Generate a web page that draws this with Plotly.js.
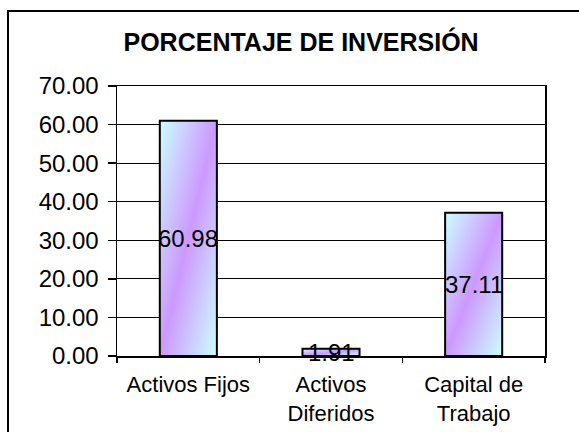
<!DOCTYPE html>
<html>
<head>
<meta charset="utf-8">
<script src="https://cdn.plot.ly/plotly-3.0.1.min.js"></script>
<style>
  html, body { margin: 0; padding: 0; background: #fff; }
  #chart { position: absolute; left: 0; top: 0; width: 579px; height: 432px; }
  #frame { position: absolute; left: 7px; top: 10px; width: 600px; height: 460px;
           border-left: 2px solid #000; border-top: 2px solid #000; pointer-events: none; z-index: 5; }
</style>
</head>
<body>
<div id="chart"></div>
<div id="frame"></div>
<script>
const categories = ["Activos Fijos", "Activos<br>Diferidos", "Capital de<br>Trabajo"];
const values = [60.98, 1.91, 37.11];
const yTickVals = [0, 10, 20, 30, 40, 50, 60, 70];
const yTickText = ["0.00", "10.00", "20.00", "30.00", "40.00", "50.00", "60.00", "70.00"];
const titleText = "PORCENTAJE DE INVERSIÓN";

const FONT = "Liberation Sans, Arial, sans-serif";

const trace = {
  type: "bar",
  x: categories,
  y: values,
  width: 0.4,
  marker: { color: "#CC99FF", line: { color: "#000", width: 2 } },
  hoverinfo: "none"
};

const annotations = values.map((v, i) => ({
  x: categories[i],
  y: v / 2,
  xref: "x", yref: "y",
  text: v.toFixed(2),
  showarrow: false,
  xanchor: "center", yanchor: "middle",
  font: { family: FONT, size: 24, color: "#000" }
}));

const layout = {
  width: 579, height: 432,
  margin: { l: 117, r: 34, t: 86, b: 76 },
  paper_bgcolor: "#fff",
  plot_bgcolor: "#fff",
  showlegend: false,
  title: {
    text: "<b>" + titleText + "</b>",
    x: 0.52, xanchor: "center",
    y: 0.903, yanchor: "middle",
    font: { family: FONT, size: 25, color: "#000" }
  },
  xaxis: {
    type: "category",
    tickson: "boundaries",
    ticks: "outside", ticklen: 5, tickwidth: 1.5, tickcolor: "#000",
    ticklabelstandoff: 8,
    showline: true, linecolor: "#000", linewidth: 1.5, mirror: true,
    showgrid: false,
    tickfont: { family: FONT, size: 22, color: "#000" },
    fixedrange: true
  },
  yaxis: {
    range: [0, 70],
    tickvals: yTickVals,
    ticktext: yTickText,
    ticks: "outside", ticklen: 8, tickwidth: 1.5, tickcolor: "#000",
    ticklabelstandoff: 4,
    showline: true, linecolor: "#000", linewidth: 1.5, mirror: true,
    showgrid: true, gridcolor: "#000", gridwidth: 1,
    zeroline: false,
    tickfont: { family: FONT, size: 24, color: "#000" },
    fixedrange: true
  },
  annotations: annotations
};

Plotly.newPlot("chart", [trace], layout, { staticPlot: true, displayModeBar: false }).then(gd => {
  const svg = gd.querySelector("svg.main-svg");
  const ns = "http://www.w3.org/2000/svg";
  let defs = svg.querySelector("defs");
  if (!defs) { defs = document.createElementNS(ns, "defs"); svg.insertBefore(defs, svg.firstChild); }
  const grad = document.createElementNS(ns, "linearGradient");
  grad.setAttribute("id", "barGrad");
  grad.setAttribute("x1", "0"); grad.setAttribute("y1", "0");
  grad.setAttribute("x2", "1"); grad.setAttribute("y2", "1");
  [["0", "#CCFFFF"], ["0.5", "#CC99FF"], ["1", "#CCFFFF"]].forEach(([o, c]) => {
    const s = document.createElementNS(ns, "stop");
    s.setAttribute("offset", o); s.setAttribute("stop-color", c);
    grad.appendChild(s);
  });
  defs.appendChild(grad);
  gd.querySelectorAll(".bars .point path").forEach(p => { p.style.fill = "url(#barGrad)"; });
});
</script>
</body>
</html>
